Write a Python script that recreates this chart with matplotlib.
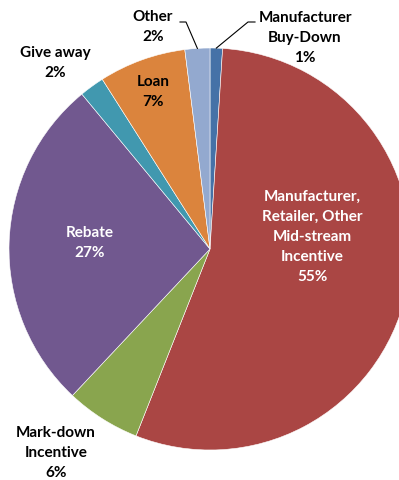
import numpy as np
import matplotlib.pyplot as plt

labels = ['Manufacturer\nBuy-Down', 'Manufacturer,\nRetailer, Other\nMid-stream\nIncentive',
          'Mark-down\nIncentive', 'Rebate', 'Give away', 'Loan', 'Other']
values = [1, 55, 6, 27, 2, 7, 2]
colors = ['#4572A7', '#AA4644', '#89A54E', '#71588F', '#4198AF', '#DB843D', '#93A9CF']

# layout in pixels (image coords), converted below
CX, CY, R = 210, 249, 201
def px(x, y):
    return (x - CX) / R, (CY - y) / R

label_pos = [(305, 38), (312, 237), (56, 453), (90, 243), (55, 63), (153, 92), (153, 27)]
text_col = ['black', 'white', 'black', 'white', 'black', 'black', 'black']
# leader lines: (elbow x, end x, y) in pixels for small outside labels
leaders = {0: (248, 255, 22), 6: (186, 180, 22)}

plt.rcParams['font.family'] = ['Lato', 'DejaVu Sans']
fig = plt.figure(figsize=(3.99, 4.80), dpi=100)
ax = fig.add_axes([0, 0, 1, 1])
wedges, _ = ax.pie(values, colors=colors, startangle=90, counterclock=False,
                   radius=1, center=(0, 0),
                   wedgeprops=dict(edgecolor='white', linewidth=0.4))

for i, w in enumerate(wedges):
    x, y = px(*label_pos[i])
    ax.text(x, y, f'{labels[i]}\n{values[i]}%', ha='center', va='center',
            fontsize=11, fontweight='bold', color=text_col[i], linespacing=1.55)
    if i in leaders:
        ex, tx, ty = leaders[i]
        mid = np.deg2rad((w.theta1 + w.theta2) / 2)
        x0, y0 = px(tx, ty)
        x1, y1 = px(ex, ty)
        ax.plot([x0, x1, np.cos(mid)], [y0, y1, np.sin(mid)], color='black', lw=0.8)

x0, y0 = px(0, 480)
x1, y1 = px(399, 0)
ax.set_xlim(x0, x1)
ax.set_ylim(y0, y1)
ax.set_aspect('auto')
ax.axis('off')
fig.savefig('out.png', dpi=100)
